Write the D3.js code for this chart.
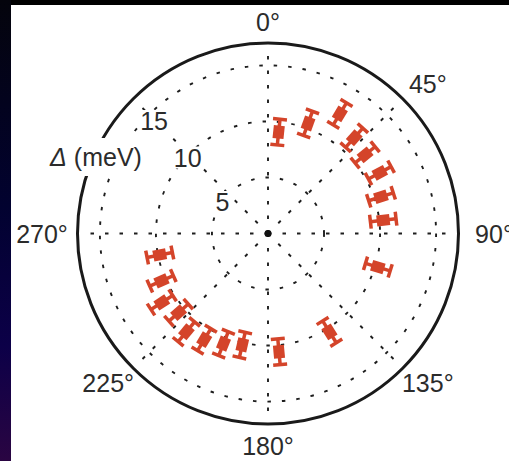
<!DOCTYPE html>
<html>
<head>
<meta charset="utf-8">
<script src="https://cdn.jsdelivr.net/npm/d3@7"></script>
<style>
  html, body { margin: 0; padding: 0; background: #000; }
  svg { display: block; }
  text { font-family: 'Liberation Sans', Arial, sans-serif; fill: #2b2b2b; }
</style>
</head>
<body>
<svg id="chart" width="509" height="461"></svg>
<script>
// gap angle (deg, clockwise from top) and gap size (meV) with error
const angles = [6, 20, 31, 42, 51, 61.5, 72, 83.4, 107, 148, 174.7,
  193, 202, 211, 219.7, 228.5, 237, 246, 258.8];
const gaps = [9.1, 10.45, 12.45, 11.5, 11.15, 11.35, 10.6, 10.35, 10.25, 10.35, 10.6,
  10.2, 10.6, 11.05, 11.4, 10.65, 11.3, 10.4, 9.85];
const errs = [1.15, 1.15, 1.15, 1.15, 1.15, 1.15, 1.15, 1.15, 1.15, 1.15, 1.15,
  1.15, 1.15, 1.15, 1.15, 1.15, 1.15, 1.15, 1.15];

const spokeAngles = [0, 45, 90, 135, 180, 225, 270, 315];
const angleLabels = [0, 45, 90, 135, 180, 225, 270];
const radialTicks = [5, 10, 15];
const rMax = 17;

const svg = d3.select('#chart');
const width = +svg.attr('width'),
  height = +svg.attr('height');

// background: dark frame + white panel
const defs = svg.append('defs');
const grad = defs.append('linearGradient')
  .attr('id', 'side').attr('x1', 0).attr('y1', 0).attr('x2', 0).attr('y2', 1);
grad.append('stop').attr('offset', '0%').attr('stop-color', '#04040c');
grad.append('stop').attr('offset', '45%').attr('stop-color', '#020230');
grad.append('stop').attr('offset', '75%').attr('stop-color', '#0c0048');
grad.append('stop').attr('offset', '100%').attr('stop-color', '#2a0542');
svg.append('rect').attr('width', width).attr('height', height).attr('fill', '#000');
svg.append('rect').attr('width', 11).attr('height', height).attr('fill', 'url(#side)');
svg.append('rect').attr('x', 11).attr('y', 5)
  .attr('width', width - 11).attr('height', height - 5).attr('fill', '#fff');

const cx = 268, cy = 233.5;
const r = d3.scaleLinear().domain([0, rMax]).range([0, 190.5]);
const rad = d => d * Math.PI / 180;

const g = svg.append('g').attr('transform', `translate(${cx},${cy})`);

// dotted rings
g.selectAll('.ring').data(radialTicks).join('circle')
  .attr('class', 'ring')
  .attr('r', d => r(d))
  .attr('fill', 'none')
  .attr('stroke', '#1e1e1e')
  .attr('stroke-width', 1.9)
  .attr('stroke-dasharray', '3.5,11');

// dotted spokes
g.selectAll('.spoke').data(spokeAngles).join('line')
  .attr('class', 'spoke')
  .attr('x1', 0).attr('y1', 0)
  .attr('x2', d => Math.sin(rad(d)) * r(rMax - 0.4))
  .attr('y2', d => -Math.cos(rad(d)) * r(rMax - 0.4))
  .attr('stroke', '#1e1e1e')
  .attr('stroke-width', 1.9)
  .attr('stroke-dasharray', '3.5,11');

// outer circle
g.append('circle').attr('r', r(rMax))
  .attr('fill', 'none').attr('stroke', '#1a1a1a').attr('stroke-width', 3);

g.append('circle').attr('r', 3.5).attr('fill', '#111');

// radial tick labels with white background
const tickNudge = { 5: [-4, 6], 10: [3, -1], 15: [11, 0] };
const tl = g.selectAll('.rtick').data(radialTicks).join('g')
  .attr('class', 'rtick')
  .attr('transform', d => {
    const a = rad(-48);
    const x = Math.sin(a) * r(d) + tickNudge[d][0];
    const y = -Math.cos(a) * r(d) + tickNudge[d][1];
    return `translate(${x},${y})`;
  });
tl.append('rect')
  .attr('x', d => d < 10 ? -8 : -15).attr('y', -11)
  .attr('width', d => d < 10 ? 16 : 30).attr('height', 22)
  .attr('fill', '#fff');
tl.append('text')
  .attr('text-anchor', 'middle').attr('dominant-baseline', 'central')
  .attr('font-size', 25)
  .text(d => d);

// axis title
const title = g.append('g').attr('transform', `translate(${96 - cx},${157 - cy})`);
title.append('rect').attr('x', -50).attr('y', -19).attr('width', 100).attr('height', 38)
  .attr('fill', '#fff');
const tt = title.append('text')
  .attr('text-anchor', 'middle').attr('dominant-baseline', 'central')
  .attr('font-size', 25);
tt.append('tspan').attr('font-style', 'italic').text('Δ');
tt.append('tspan').text(' (meV)');

// angle labels
g.selectAll('.alabel').data(angleLabels).join('text')
  .attr('class', 'alabel')
  .attr('x', d => Math.sin(rad(d)) * 226)
  .attr('y', d => -Math.cos(rad(d)) * 212)
  .attr('text-anchor', 'middle').attr('dominant-baseline', 'central')
  .attr('font-size', 25)
  .text(d => d + '°');

// data: square + radial error bar
const red = '#d4442a';
const pts = angles.map((a, i) => ({ a, v: gaps[i], e: errs[i] }));
const m = g.selectAll('.pt').data(pts).join('g')
  .attr('class', 'pt')
  .attr('transform', d => `rotate(${d.a})`);
m.append('line')
  .attr('x1', 0).attr('x2', 0)
  .attr('y1', d => -r(d.v - d.e)).attr('y2', d => -r(d.v + d.e))
  .attr('stroke', red).attr('stroke-width', 3.5);
m.selectAll('.cap').data(d => [d.v - d.e, d.v + d.e]).join('line')
  .attr('class', 'cap')
  .attr('x1', -7).attr('x2', 7)
  .attr('y1', d => -r(d)).attr('y2', d => -r(d))
  .attr('stroke', red).attr('stroke-width', 3.5);
m.append('rect')
  .attr('x', -5.5).attr('width', 11)
  .attr('y', d => -r(d.v) - 6.5).attr('height', 13)
  .attr('fill', red);
</script>
</body>
</html>
